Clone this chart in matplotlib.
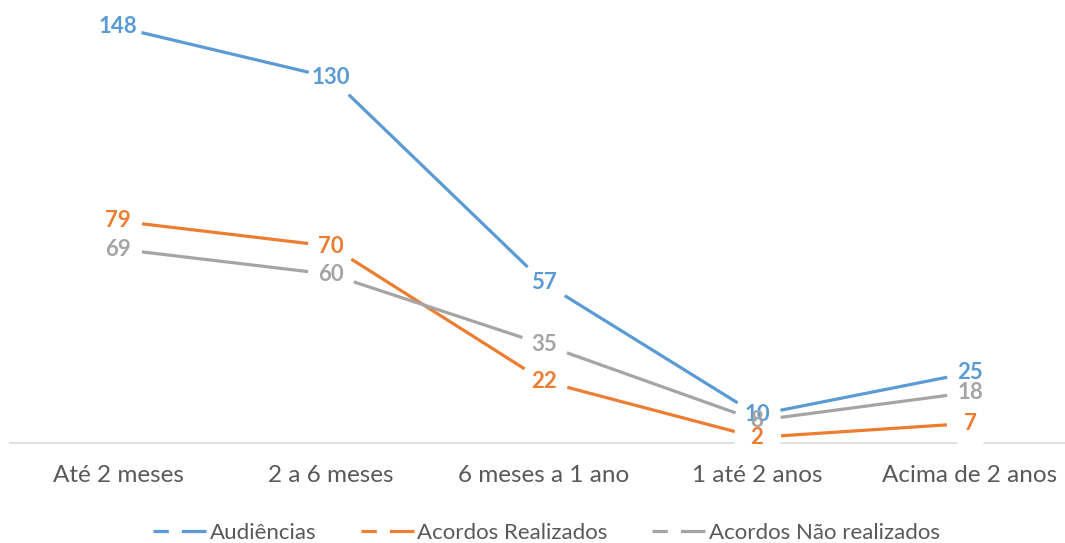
import matplotlib.pyplot as plt
from matplotlib.lines import Line2D

plt.rcParams['font.family'] = ['Lato', 'DejaVu Sans']

categorias = ['Até 2 meses', '2 a 6 meses', '6 meses a 1 ano', '1 até 2 anos', 'Acima de 2 anos']
audiencias = [148, 130, 57, 10, 25]
acordos_realizados = [79, 70, 22, 2, 7]
acordos_nao_realizados = [69, 60, 35, 8, 18]

series = [
    ('Audiências', audiencias, '#5B9BD5'),
    ('Acordos Realizados', acordos_realizados, '#ED7D31'),
    ('Acordos Não realizados', acordos_nao_realizados, '#A5A5A5'),
]

W, H = 1065, 543
fig = plt.figure(figsize=(W / 100, H / 100), dpi=100)
ax = fig.add_axes([0, 1 - 443 / H, 1, 443 / H])

x = list(range(len(categorias)))
for i, (nome, vals, cor) in enumerate(series):
    ax.plot(x, vals, color=cor, lw=2.3, marker='o', markersize=33,
            markerfacecolor='white', markeredgecolor='white',
            clip_on=False, zorder=2 + i)

for i, (nome, vals, cor) in enumerate(series):
    for xi, v in zip(x, vals):
        ax.text(xi, v, str(v), color=cor, fontsize=16, fontweight='bold',
                ha='center', va='center', zorder=10 + i)

ax.set_xlim(-0.554, 4.446)
ax.set_ylim(0, 157.6)
for s in ['top', 'right', 'left']:
    ax.spines[s].set_visible(False)
ax.spines['bottom'].set_color('#D9D9D9')
ax.spines['bottom'].set_linewidth(1.2)
ax.spines['bottom'].set_zorder(1)
ax.spines['bottom'].set_bounds(-0.505, 4.446)
ax.set_yticks([])
ax.set_xticks(x)
ax.set_xticklabels(categorias, fontsize=17.5, color='#595959')
ax.tick_params(axis='x', length=0, pad=16)

handles = [Line2D([], [], color=c, lw=2.3, linestyle=(0, (4.8, 4.1, 7.8, 50)))
           for _, _, c in series]
fig.legend(handles, [s[0] for s in series], loc='center', ncol=3,
           bbox_to_anchor=(0.513, 1 - 533 / H), frameon=False,
           fontsize=16, labelcolor='#595959', handlelength=2.4,
           handletextpad=0.15, columnspacing=2.0)

fig.savefig('out.png', dpi=100)
